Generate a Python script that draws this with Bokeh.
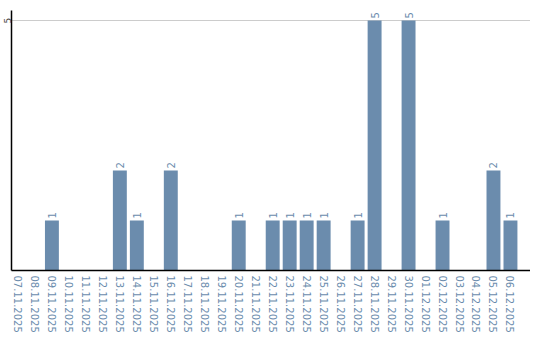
from bokeh.plotting import figure
from bokeh.models import ColumnDataSource, FixedTicker, Range1d
from bokeh.core.properties import value
from bokeh.embed import file_html
from bokeh.resources import INLINE
import math

dates = ["07.11.2025", "08.11.2025", "09.11.2025", "10.11.2025", "11.11.2025",
         "12.11.2025", "13.11.2025", "14.11.2025", "15.11.2025", "16.11.2025",
         "17.11.2025", "18.11.2025", "19.11.2025", "20.11.2025", "21.11.2025",
         "22.11.2025", "23.11.2025", "24.11.2025", "25.11.2025", "26.11.2025",
         "27.11.2025", "28.11.2025", "29.11.2025", "30.11.2025", "01.12.2025",
         "02.12.2025", "03.12.2025", "04.12.2025", "05.12.2025", "06.12.2025"]
counts = [0, 0, 1, 0, 0, 0, 2, 1, 0, 2, 0, 0, 0, 1, 0,
          1, 1, 1, 1, 0, 1, 5, 0, 5, 0, 1, 0, 0, 2, 1]

BAR = "#6b8cad"
LABEL = "#6b8cad"

xs = list(range(len(dates)))
nz = [i for i, c in enumerate(counts) if c > 0]
src = ColumnDataSource(dict(x=xs, top=counts))
lab = ColumnDataSource(dict(x=[xs[i] for i in nz], y=[counts[i] for i in nz],
                            t=[str(counts[i]) for i in nz]))

p = figure(width=540, height=340, output_backend="svg", toolbar_location=None,
           x_range=Range1d(-0.38, 30.18), y_range=Range1d(0, 5.2),
           frame_width=519, frame_height=260,
           min_border_left=0, min_border_right=0, min_border_top=10, min_border_bottom=0)
p.outline_line_color = None
p.background_fill_color = "white"

p.vbar(x="x", top="top", width=0.82, bottom=0, source=src, color=BAR, line_color=None)
p.text(x="x", y="y", text="t", source=lab, angle=math.pi / 2, y_offset=-2,
       text_align="left", text_baseline="middle", text_color=LABEL,
       text_font=value("DejaVu Sans"), text_font_size="10px")

# y axis
p.yaxis.ticker = FixedTicker(ticks=[5])
p.yaxis.major_tick_line_color = None
p.yaxis.minor_tick_line_color = None
p.yaxis.major_tick_out = 0
p.yaxis.major_tick_in = 0
p.yaxis.major_label_orientation = "parallel"
p.yaxis.major_label_standoff = 1
p.yaxis.major_label_text_font = "DejaVu Sans"
p.yaxis.major_label_text_font_size = "9px"
p.yaxis.major_label_text_color = "#444444"
p.yaxis.axis_line_color = "black"
p.yaxis.axis_line_width = 1.5
p.ygrid.ticker = FixedTicker(ticks=[5])
p.ygrid.grid_line_color = "#cccccc"
p.ygrid.grid_line_width = 1

# x axis
p.xaxis.ticker = FixedTicker(ticks=xs)
p.xaxis.major_label_overrides = {i: d for i, d in enumerate(dates)}
p.xaxis.major_label_orientation = "vertical"
p.xaxis.major_tick_line_color = None
p.xaxis.minor_tick_line_color = None
p.xaxis.major_tick_out = 0
p.xaxis.major_tick_in = 0
p.xaxis.major_label_standoff = 5
p.xaxis.major_label_text_font = "DejaVu Sans"
p.xaxis.major_label_text_font_size = "10px"
p.xaxis.major_label_text_color = LABEL
p.xaxis.axis_line_color = "black"
p.xaxis.axis_line_width = 1.5
p.xgrid.grid_line_color = None

open("out.html", "w").write(file_html(p, INLINE))
